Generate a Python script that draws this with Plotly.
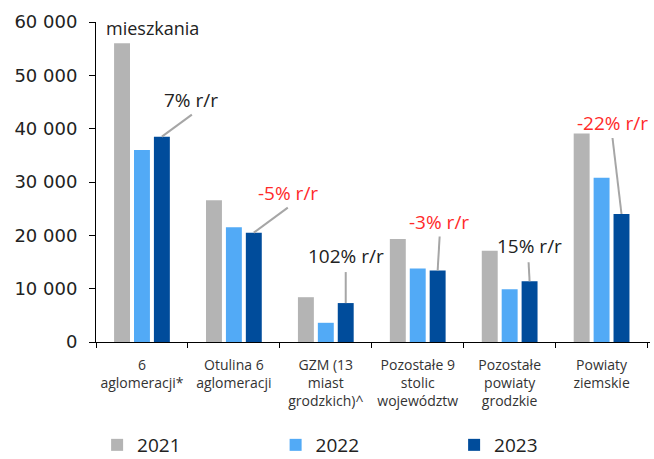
import plotly.graph_objects as go

categories = ["6<br>aglomeracji*", "Otulina 6<br>aglomeracji", "GZM (13<br>miast<br>grodzkich)^",
              "Pozostałe 9<br>stolic<br>województw", "Pozostałe<br>powiaty<br>grodzkie", "Powiaty<br>ziemskie"]
years = ["2021", "2022", "2023"]
v2021 = [56000, 26600, 8400, 19300, 17100, 39100]
v2022 = [36000, 21500, 3600, 13800, 9900, 30800]
v2023 = [38500, 20500, 7300, 13400, 11400, 24000]
yoy_labels = ["7% r/r", "-5% r/r", "102% r/r", "-3% r/r", "15% r/r", "-22% r/r"]
y_ticks = [0, 10000, 20000, 30000, 40000, 50000, 60000]

colors = ["#B4B4B4", "#52AAF6", "#004C9B"]
FONT = "Open Sans"
NUMFONT = "DejaVu Sans"

# label placement (pixel offsets from the top of the 2023 bar): line end dx, dy; text dx, dy
line_end = [(30, 22), (34, 25), (0, 31), (2, 34), (-1, 19), (-9, 76)]
text_off = [(29, 37), (34, 40), (0, 47), (1, 49), (0, 35), (-9, 91)]

L, R, T, B = 96, 4, 22, 117
W, H = 654, 459
pw, ph = W - L - R, H - T - B

fig = go.Figure()
for name, vals, col in zip(years, [v2021, v2022, v2023], colors):
    fig.add_trace(go.Bar(name=name, x=categories, y=vals, marker=dict(color=col, line=dict(width=0))))

slot = 1 / 3 * (1 - 0.35)
for i, (lab, val) in enumerate(zip(yoy_labels, v2023)):
    xc = i + slot
    (ldx, ldy), (tdx, tdy) = line_end[i], text_off[i]
    fig.add_shape(type="line", xref="x", yref="y", xsizemode="pixel", ysizemode="pixel",
                  xanchor=xc, yanchor=val, x0=0, y0=0, x1=ldx, y1=ldy,
                  line=dict(color="#A6A6A6", width=2))
    red = lab.startswith("-")
    fig.add_annotation(x=xc, y=val, xref="x", yref="y", text=lab, showarrow=False,
                       xanchor="center", yanchor="middle", xshift=tdx, yshift=tdy,
                       font=dict(family=FONT, size=19, color="#FF2A2A" if red else "#222222"))

fig.add_annotation(x=(104 - L) / pw, y=(342 - 28) / ph, xref="paper", yref="paper",
                   xanchor="left", yanchor="middle", text="mieszkania", showarrow=False,
                   font=dict(family=FONT, size=18, color="#222222"))

fig.update_layout(
    width=W, height=H,
    margin=dict(l=L, r=R, t=T, b=B, autoexpand=False),
    paper_bgcolor="white", plot_bgcolor="white",
    barmode="group", bargap=0.35, bargroupgap=0.2,
    separators=", ",
    font=dict(family=FONT, color="#222222"),
    showlegend=True,
    legend=dict(orientation="h", x=0.002, xanchor="left", y=-(445 - 342) / ph, yanchor="middle",
                entrywidth=133.5, entrywidthmode="pixels", itemwidth=30,
                font=dict(family=FONT, size=19, color="#222222"), traceorder="normal"),
    xaxis=dict(showline=True, linecolor="#000000", linewidth=1, ticks="outside", ticklen=5,
               tickcolor="#000000", tickson="boundaries", showgrid=False, tickangle=0,
               automargin=False, ticklabelstandoff=10,
               tickfont=dict(family=FONT, size=14, color="#333333")),
    yaxis=dict(range=[0, 60000], tickvals=y_ticks, tickformat=",d", showline=True,
               linecolor="#000000", linewidth=1, ticks="outside", ticklen=6, tickcolor="#000000",
               showgrid=False, zeroline=False, automargin=False, ticklabelstandoff=8,
               tickfont=dict(family=NUMFONT, size=18, color="#222222")),
)

fig.write_html("out.html", config={"displayModeBar": False},
               post_script="document.body.style.margin='0';")
